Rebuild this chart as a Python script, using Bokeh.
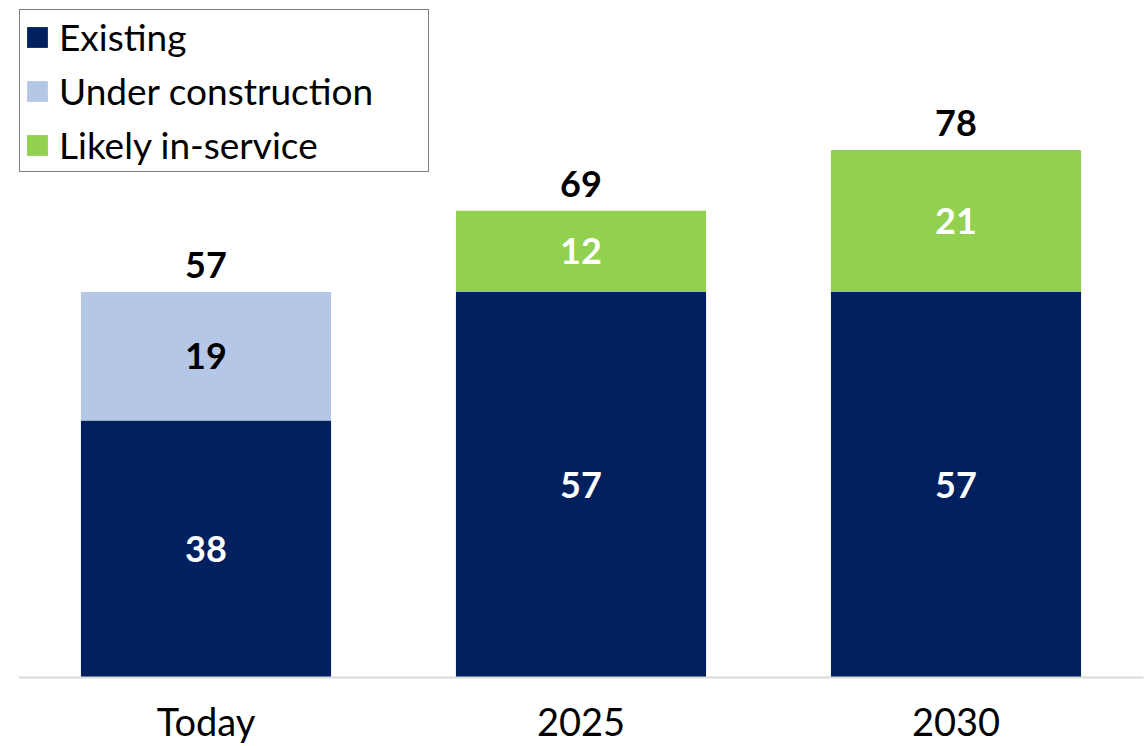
from bokeh.plotting import figure
from bokeh.models import ColumnDataSource, FactorRange, Range1d
from bokeh.core.properties import value
from bokeh.embed import file_html
from bokeh.resources import INLINE

categories = ["Today", "2025", "2030"]
existing = [38, 57, 57]
under_construction = [19, 0, 0]
likely_in_service = [0, 12, 21]

series_keys = ["existing", "under", "likely"]
series_labels = ["Existing", "Under construction", "Likely in-service"]
series_colors = ["#002060", "#B4C7E7", "#92D050"]
label_colors = ["white", "black", "white"]

FONT = "Lato"

src = ColumnDataSource(dict(cat=categories, existing=existing,
                            under=under_construction, likely=likely_in_service))

p = figure(x_range=FactorRange(*categories, range_padding=0),
           y_range=Range1d(0, 98.9),
           width=1146, height=746, output_backend="svg", toolbar_location=None,
           min_border_left=18, min_border_right=3, min_border_top=8, min_border_bottom=68)
p.outline_line_color = None
p.background_fill_color = "white"
p.xgrid.visible = False
p.ygrid.visible = False
p.yaxis.visible = False

p.vbar_stack(series_keys, x="cat", width=0.667, source=src, color=series_colors,
             line_color=None, legend_label=series_labels)

# segment labels
lx, ly, lt, lc = [], [], [], []
vals = [existing, under_construction, likely_in_service]
for i, c in enumerate(categories):
    base = 0
    for s, v in enumerate(vals):
        if v[i] > 0:
            lx.append(c); ly.append(base + v[i] / 2); lt.append(str(v[i])); lc.append(label_colors[s])
        base += v[i]
p.text(x=lx, y=ly, text=lt, text_color=lc, text_font=value(FONT), text_font_style="bold",
       text_font_size="36px", text_align="center", text_baseline="middle")

totals = [a + b + c for a, b, c in zip(existing, under_construction, likely_in_service)]
p.text(x=categories, y=totals, text=[str(t) for t in totals], text_color="black",
       text_font=value(FONT), text_font_style="bold", text_font_size="36px",
       text_align="center", text_baseline="middle", y_offset=-27)

ax = p.xaxis[0]
ax.axis_line_color = "#d9d9d9"
ax.axis_line_width = 2
ax.major_tick_line_color = None
ax.minor_tick_line_color = None
ax.major_label_text_font = FONT
ax.major_label_text_font_size = "38px"
ax.major_label_text_color = "black"
ax.major_label_standoff = 14

lg = p.legend[0]
lg.location = "top_left"
lg.margin = 1
lg.padding = 4
lg.border_line_color = "black"
lg.border_line_width = 1.5
lg.glyph_width = 26
lg.glyph_height = 26
lg.label_standoff = 9
lg.label_width = 365
lg.label_text_font = FONT
lg.label_text_font_size = "37px"
lg.label_text_color = "black"
lg.label_height = 40
lg.spacing = 9
lg.background_fill_alpha = 1

open("out.html", "w").write(file_html(p, INLINE))
